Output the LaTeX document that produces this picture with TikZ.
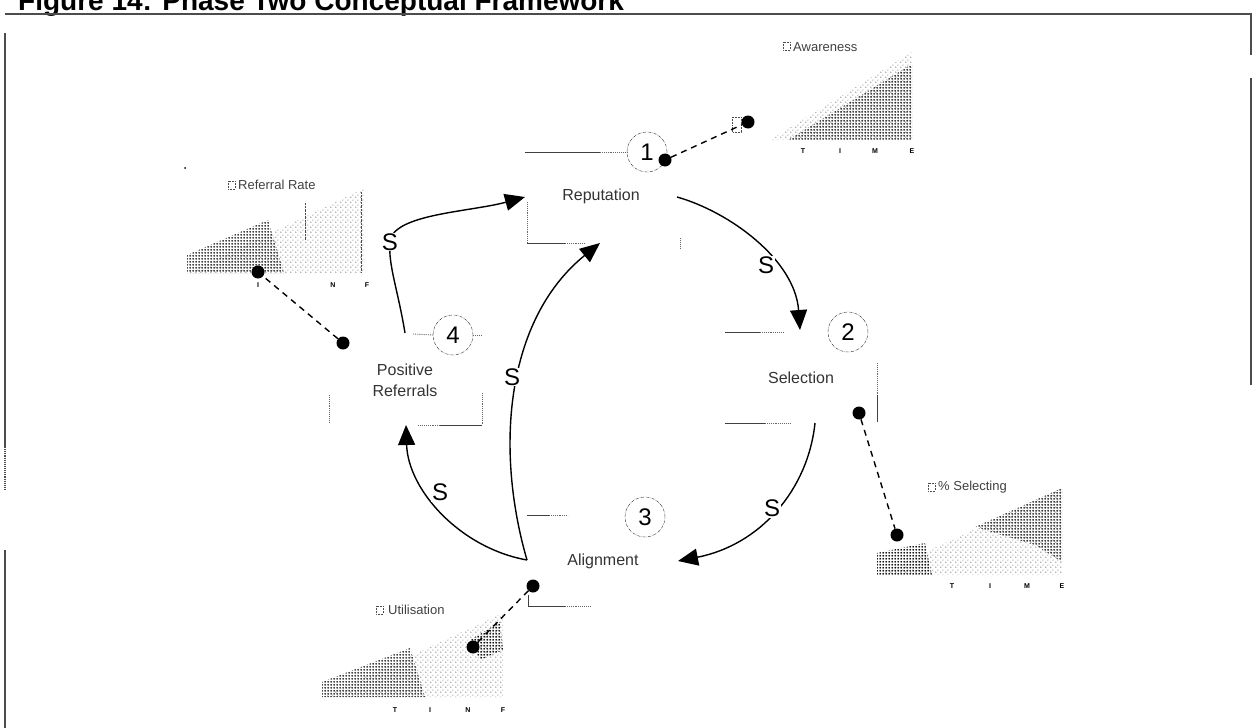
\documentclass[tikz,border=0pt]{standalone}
\usepackage{fontspec}
\setmainfont{Liberation Sans}
\usetikzlibrary{arrows.meta,patterns}
% halftone fills for the trend charts
\pgfdeclarepatternformonly{halftone}{\pgfqpoint{0pt}{0pt}}{\pgfqpoint{3pt}{3pt}}{\pgfqpoint{3pt}{3pt}}{%
  \pgfpathcircle{\pgfqpoint{1.5pt}{1.5pt}}{1.25pt}\pgfusepath{fill}}
\pgfdeclarepatternformonly{speckle}{\pgfqpoint{0pt}{0pt}}{\pgfqpoint{5pt}{5pt}}{\pgfqpoint{5pt}{5pt}}{%
  \pgfpathcircle{\pgfqpoint{1pt}{1pt}}{0.65pt}\pgfusepath{fill}%
  \pgfpathcircle{\pgfqpoint{3.5pt}{3.5pt}}{0.55pt}\pgfusepath{fill}}
\begin{document}
\begin{tikzpicture}[x=1pt,y=-1pt,
  lbl/.style={font=\fontsize{16}{21}\selectfont, text=black!80, align=center, inner sep=1pt},
  numc/.style={circle, draw=black!80, densely dashdotted, thin, minimum size=40pt, inner sep=0pt, font=\fontsize{24}{24}\selectfont},
  sig/.style={font=\fontsize{24}{24}\selectfont, fill=white, inner sep=1pt},
  flow/.style={line width=1.4pt, -{Triangle[length=20pt,width=17pt]}},
  link/.style={line width=1.4pt, dash pattern=on 6pt off 5pt},
  blob/.style={circle, fill=black, minimum size=13pt, inner sep=0pt},
  rule/.style={black!75, line width=0.9pt},
  faint/.style={black!60, line width=0.9pt, densely dotted},
  frame/.style={black!70, line width=1.1pt},
  ctitle/.style={font=\fontsize{13}{13}\selectfont, text=black!75, anchor=west, inner sep=0pt},
  tick/.style={font=\fontsize{7}{7}\selectfont\bfseries, inner sep=0pt},
  dense/.style={pattern=halftone, pattern color=black},
  sparse/.style={pattern=speckle, pattern color=black!80},
  icon/.style={densely dotted, black!70, line width=0.6pt},
]
\useasboundingbox (0,0) rectangle (1254,728);
\clip (0,0) rectangle (1254,728);

% frame and title
\node[anchor=base west, inner sep=0pt, font=\fontsize{28}{28}\selectfont\bfseries] (title) at (18,10) {Figure 14: Phase Two Conceptual Framework};
\draw[frame] (5,14) -- (1251,14) -- (1251,55);
\draw[frame] (1251,78) -- (1251,385);
\draw[frame] (5,33) -- (5,447);
\draw[frame, densely dotted] (5,447) -- (5,490);
\draw[frame] (5,550) -- (5,728);

% stage labels
\node[lbl] (rep) at (601,196) {Reputation};
\node[lbl] (sel) at (801,378) {Selection};
\node[lbl] (ali) at (603,561) {Alignment};
\node[lbl] (pos) at (405,380) {Positive\\Referrals};

% numbered markers
\node[numc] (n1) at (647,152) {1};
\node[numc] (n2) at (848,332) {2};
\node[numc] (n3) at (645,517) {3};
\node[numc] (n4) at (453,335) {4};

% leader rules beside the markers
\coordinate (l1) at (525,152);
\draw[rule] (l1) -- ++(75,0); \draw[faint] (600,152) -- (n1.west);
\coordinate (l2) at (725,332);
\draw[rule] (l2) -- ++(35,0); \draw[faint] (760,332) -- (783,332);
\coordinate (l3) at (527,515);
\draw[rule] (l3) -- ++(22,0); \draw[faint] (549,515) -- (568,515);
\coordinate (l4) at (413,334);
\draw[faint] (l4) -- (n4.west);
\draw[faint] (n4.east) -- ++(8,0);
\coordinate (l5) at (725,423);
\draw[rule] (l5) -- ++(40,0); \draw[faint] (765,423) -- (790,423);

% brackets
\coordinate (b1) at (527,202);
\draw[faint] (b1) -- (527,243); \draw[rule] (527,243) -- (565,243); \draw[faint] (565,243) -- (585,243);
\draw[faint] (680,238) -- (680,248);
\coordinate (b2) at (482,393);
\draw[faint] (b2) -- (482,425); \draw[rule] (482,425) -- (440,425); \draw[faint] (440,425) -- (418,425);
\draw[faint] (329,395) -- (329,423);
\coordinate (b3) at (877,363);
\draw[faint] (b3) -- (877,395); \draw[rule] (877,395) -- (877,422);
\coordinate (b4) at (528,595);
\draw[rule] (b4) -- (528,606) -- (565,606); \draw[faint] (565,606) -- (590,606);

% cycle arrows
\coordinate (a1s) at (405,333);
\coordinate (a1e) at (525,197);
\coordinate (a2s) at (677,197);
\coordinate (a2e) at (800,330);
\coordinate (a3s) at (815,423);
\coordinate (a3e) at (678,561);
\coordinate (a4s) at (527,560);
\coordinate (a4e) at (406,425);
\coordinate (a5e) at (600,243);

\draw[flow] (a1s) .. controls (398,290) and (388,265) .. (390,242)
  .. controls (392,214) and (470,212) .. (a1e);
\draw[flow] (a2s) .. controls (730,212) and (795,260) .. (a2e);
\draw[flow] (a3s) .. controls (808,490) and (760,545) .. (a3e);
\draw[flow] (a4s) .. controls (460,548) and (408,490) .. (a4e);
\draw[flow] (a4s) .. controls (495,450) and (505,320) .. (a5e);

% polarity marks
\node[sig] (s1) at (390,242) {S};
\node[sig] (s2) at (766,265) {S};
\node[sig] (s3) at (772,508) {S};
\node[sig] (s4) at (440,492) {S};
\node[sig] (s5) at (512,377) {S};

% trend charts: awareness
\fill[sparse] (770,140) -- (912,52) -- (912,140) -- cycle;
\fill[dense] (788,140) -- (912,64) -- (912,140) -- cycle;
\draw[icon] (783,42) rectangle (790,50);
\node[ctitle] (awt) at (793,47) {Awareness};
\node[tick] at (803,151) {T}; \node[tick] at (840,151) {I};
\node[tick] at (875,151) {M}; \node[tick] at (912,151) {E};

% referral rate
\fill[sparse] (187,273) -- (365,188) -- (365,273) -- cycle;
\fill[dense] (187,273) -- (187,255) -- (268,220) -- (284,273) -- cycle;
\draw[densely dotted, black!70] (305,203) -- (305,240);
\draw[densely dotted, black!70] (361,192) -- (361,273);
\fill[black] (185,168) circle (1pt);
\draw[icon] (228,181) rectangle (235,189);
\node[ctitle] (rrt) at (238,185) {Referral Rate};
\node[tick] at (258,285) {I}; \node[tick] at (333,285) {N};
\node[tick] at (367,285) {F};

% selecting
\fill[sparse] (877,575) -- (1062,488) -- (1062,575) -- cycle;
\fill[dense] (877,575) -- (877,553) -- (925,543) -- (932,575) -- cycle;
\fill[dense] (975,527) -- (1062,488) -- (1062,562) -- (1035,545) -- cycle;
\draw[icon] (928,483) rectangle (935,491);
\node[ctitle] (set) at (938,487) {\% Selecting};
\node[tick] at (952,586) {T}; \node[tick] at (990,586) {I};
\node[tick] at (1027,586) {M}; \node[tick] at (1062,586) {E};

% utilisation
\fill[sparse] (322,697) -- (503,613) -- (503,697) -- cycle;
\fill[dense] (322,697) -- (322,682) -- (410,648) -- (425,697) -- cycle;
\fill[dense] (470,640) -- (500,622) -- (503,650) -- (480,660) -- cycle;
\draw[icon] (376,606) rectangle (383,614);
\node[ctitle] (utt) at (388,610) {Utilisation};
\node[tick] at (395,710) {T}; \node[tick] at (430,710) {I};
\node[tick] at (468,710) {N}; \node[tick] at (503,710) {F};

% measurement links
\node[blob] (d1) at (665,160) {};
\node[blob] (aw) at (748,122) {};
\draw[icon] (732,117) rectangle (741,132);
\draw[link] (d1) -- (aw);
\node[blob] (d2) at (859,413) {};
\node[blob] (se) at (897,535) {};
\draw[link] (d2) -- (se);
\node[blob] (d4) at (343,343) {};
\node[blob] (rr) at (258,272) {};
\draw[link] (d4) -- (rr);
\node[blob] (d3) at (533,586) {};
\node[blob] (ut) at (473,647) {};
\draw[link] (d3) -- (ut);
\end{tikzpicture}
\end{document}
